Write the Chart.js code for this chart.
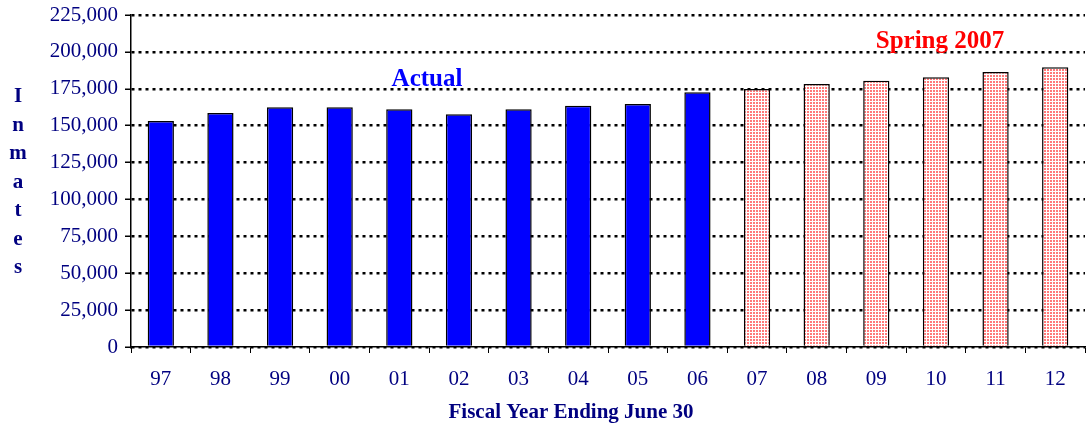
<!DOCTYPE html>
<html>
<head>
<meta charset="utf-8">
<script src="https://cdn.jsdelivr.net/npm/chart.js@4.4.1/dist/chart.umd.min.js"></script>
<style>
  html, body { margin: 0; padding: 0; background: #fff; }
  canvas { display: block; }
</style>
</head>
<body>
<canvas id="inmateChart" width="1086" height="429"></canvas>
<script>
const years = ["97", "98", "99", "00", "01", "02", "03", "04", "05", "06", "07", "08", "09", "10", "11", "12"];
const actualInmates = [153200, 158600, 162400, 162400, 161100, 157700, 161100, 163500, 164700, 172600];
const projectedInmates = [174900, 178200, 180500, 182800, 186400, 189600];
const yTicks = [0, 25000, 50000, 75000, 100000, 125000, 150000, 175000, 200000, 225000];

const textColor = "#000080";
const serif = "'Liberation Serif', serif";

function dotPattern() {
  const c = document.createElement("canvas");
  c.width = 3;
  c.height = 3;
  const g = c.getContext("2d");
  g.fillStyle = "#ffffff";
  g.fillRect(0, 0, 3, 3);
  g.fillStyle = "#ff7a7a";
  g.fillRect(0, 0, 2, 2);
  return g.createPattern(c, "repeat");
}

const ctx = document.getElementById("inmateChart").getContext("2d");
const pattern = dotPattern();
const values = actualInmates.concat(projectedInmates);
const colors = values.map((v, i) => i < actualInmates.length ? "#0000ff" : pattern);

// extra text: stacked y title, x title, series labels
const labelsPlugin = {
  id: "labels",
  afterDraw(chart) {
    const c = chart.ctx;
    c.save();
    c.textAlign = "center";
    c.textBaseline = "middle";
    c.fillStyle = textColor;
    c.font = "bold 21px " + serif;
    "Inmates".split("").forEach((ch, i) => {
      c.fillText(ch, 18, 97 + i * 28.5);
    });
    c.fillText("Fiscal Year Ending June 30", 571, 413);
    c.font = "bold 25px " + serif;
    c.fillStyle = "#0000ff";
    c.fillText("Actual", 427, 80);
    c.fillStyle = "#ff0000";
    c.fillText("Spring 2007", 940, 42);
    c.restore();
  }
};

new Chart(ctx, {
  type: "bar",
  data: {
    labels: years,
    datasets: [{
      data: values,
      backgroundColor: colors,
      borderColor: "#000000",
      borderWidth: 1.5,
      borderSkipped: "bottom",
      categoryPercentage: 1,
      barPercentage: 0.44
    }]
  },
  options: {
    responsive: false,
    animation: false,
    layout: { padding: { top: 15, right: 1, left: 0, bottom: 0 } },
    plugins: {
      legend: { display: false },
      tooltip: { enabled: false }
    },
    scales: {
      x: {
        afterFit: s => { s.height = 82; },
        grid: {
          offset: true,
          drawOnChartArea: false,
          drawTicks: true,
          tickLength: 6,
          color: "#000000"
        },
        border: { color: "#000000", width: 1.5 },
        ticks: {
          color: textColor,
          padding: 14,
          font: { family: serif, size: 21 }
        }
      },
      y: {
        min: 0,
        max: 225000,
        afterFit: s => {
          s.width = 131;
          s.paddingTop = 0;
          s.paddingBottom = 0;
        },
        afterBuildTicks: s => { s.ticks = yTicks.map(v => ({ value: v })); },
        grid: {
          color: "#000000",
          lineWidth: 2.5,
          tickLength: 6,
          tickColor: "#000000",
          tickWidth: 1.5,
          tickBorderDash: []
        },
        border: { color: "#000000", width: 1.5, dash: [3, 4] },
        ticks: {
          color: textColor,
          padding: 7,
          font: { family: serif, size: 21 },
          callback: v => v.toLocaleString("en-US")
        }
      }
    }
  },
  plugins: [labelsPlugin]
});
</script>
</body>
</html>
